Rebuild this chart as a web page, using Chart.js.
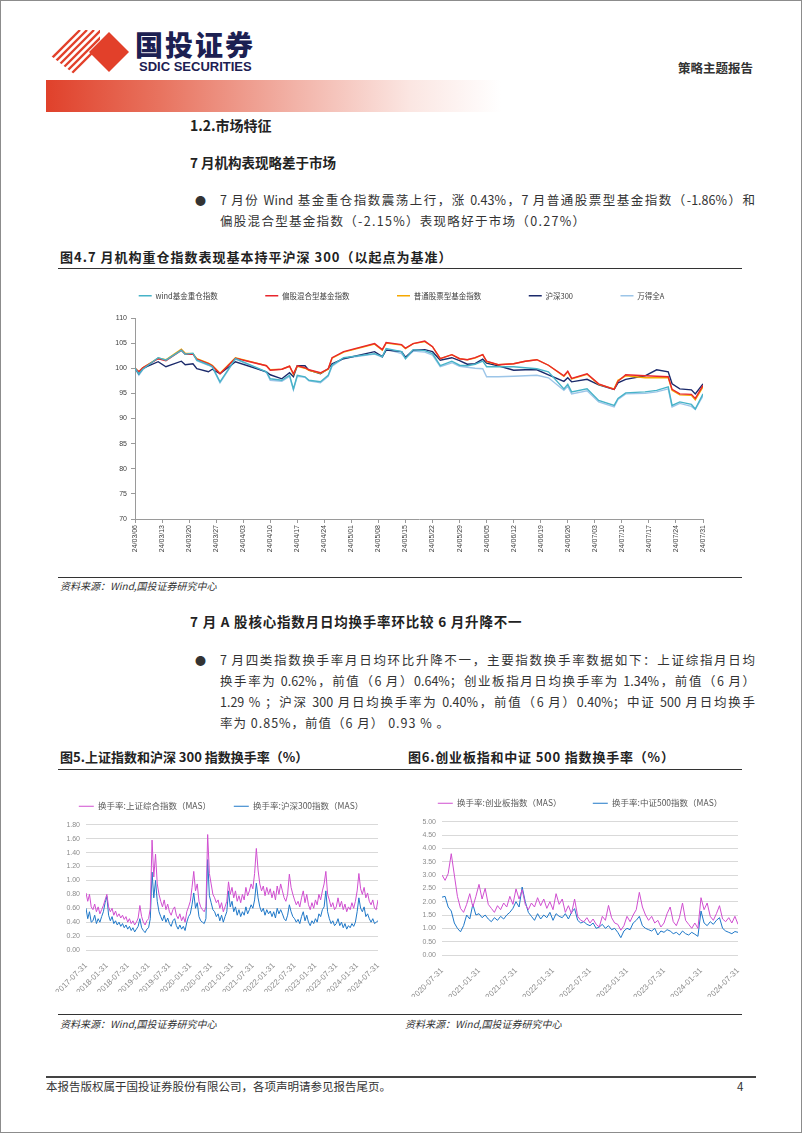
<!DOCTYPE html>
<html>
<head>
<meta charset="utf-8">
<script src="https://cdn.jsdelivr.net/npm/chart.js@4.4.1/dist/chart.umd.min.js"></script>
<style>
html, body { margin: 0; padding: 0; background: #fff; }
body { width: 802px; height: 1133px; position: relative; overflow: hidden; font-family: "Noto Sans CJK SC", sans-serif; color: #222; }
.frame { position: absolute; left: 0; top: 0; width: 800px; height: 1131px; border: 1px solid #8c8c8c; }
.abs { position: absolute; white-space: nowrap; }
.h1 { left: 190px; top: 114px; font-size: 14px; font-weight: 700; line-height: 22px; }
.h2 { left: 190px; font-size: 13.5px; font-weight: 700; line-height: 20px; }
.dot { left: 195px; font-size: 11px; line-height: 20px; color: #333; }
.para { left: 220px; width: 535px; font-size: 12.5px; line-height: 20px; color: #333; }
.just { text-align: justify; text-align-last: justify; }
.figt { font-size: 13px; font-weight: 700; line-height: 20px; color: #222; }
.rule { position: absolute; height: 0; border-top: 1.6px solid #333; }
.src { font-size: 10px; font-style: italic; color: #333; line-height: 14px; }
canvas { position: absolute; }
</style>
</head>
<body>
<div class="frame"></div>

<!-- 页眉 -->
<svg class="abs" style="left:44px;top:30px" width="90" height="44" viewBox="0 0 90 44">
  <defs><clipPath id="stripeClip"><polygon points="2,22 30,0 56,0 56,44 30,44"/></clipPath></defs>
  <g clip-path="url(#stripeClip)" stroke="#e2402a" stroke-width="2.3">
    <line x1="-8" y1="44" x2="36" y2="0"/>
    <line x1="-1" y1="44" x2="43" y2="0"/>
    <line x1="6" y1="44" x2="50" y2="0"/>
    <line x1="13" y1="44" x2="57" y2="0"/>
    <line x1="20" y1="44" x2="64" y2="0"/>
    <line x1="27" y1="44" x2="71" y2="0"/>
  </g>
  <polygon points="65,2 85,22 65,42 45,22" fill="#e2402a"/>
</svg>
<div class="abs" style="left:135px;top:26px;font-size:28px;font-weight:900;letter-spacing:2px;color:#1c2052;line-height:36px">国投证券</div>
<div class="abs" style="left:139px;top:60px;font-family:'Liberation Sans Narrow','Liberation Sans',sans-serif;font-size:13px;font-weight:700;color:#1c2052;line-height:14px">SDIC SECURITIES</div>
<div class="abs" style="left:678px;top:59px;font-size:12.5px;font-weight:700;color:#333;line-height:18px">策略主题报告</div>
<div class="abs" style="left:46px;top:80px;width:455px;height:32px;background:linear-gradient(90deg,#e0412b 0%,#e8735f 25%,#f2b3a8 55%,#fbe6e2 80%,rgba(255,255,255,0) 100%)"></div>

<!-- 正文 -->
<div class="abs h1">1.2.市场特征</div>
<div class="abs h2" style="top:152px">7 月机构表现略差于市场</div>
<div class="abs dot" style="top:190px">●</div>
<div class="abs para just" style="top:190px">7 月份 Wind 基金重仓指数震荡上行，涨 0.43%，7 月普通股票型基金指数（-1.86%）和</div>
<div class="abs para" style="top:211px;letter-spacing:1.3px">偏股混合型基金指数（-2.15%）表现略好于市场（0.27%）</div>

<div class="abs figt" style="left:60px;top:247px;letter-spacing:1px">图4.7 月机构重仓指数表现基本持平沪深 300（以起点为基准）</div>
<div class="rule" style="left:58px;top:268px;width:684px"></div>
<canvas id="chart1" width="620" height="273" style="left:100px;top:282px"></canvas>
<div class="rule" style="left:58px;top:577px;width:684px;border-top-width:1.2px"></div>
<div class="abs src" style="left:60px;top:579px">资料来源：Wind,国投证券研究中心</div>

<div class="abs h2" style="top:611px;letter-spacing:0.8px">7 月 A 股核心指数月日均换手率环比较 6 月升降不一</div>
<div class="abs dot" style="top:650px">●</div>
<div class="abs para just" style="top:650px">7 月四类指数换手率月日均环比升降不一，主要指数换手率数据如下：上证综指月日均</div>
<div class="abs para just" style="top:671px">换手率为 0.62%，前值（6 月）0.64%；创业板指月日均换手率为 1.34%，前值（6 月）</div>
<div class="abs para just" style="top:692px">1.29 % ；沪深 300 月日均换手率为 0.40%，前值（6 月）0.40%；中证 500 月日均换手</div>
<div class="abs para" style="top:713px;letter-spacing:1px">率为 0.85%，前值（6 月） 0.93 % 。</div>

<div class="abs figt" style="left:60px;top:747px">图5.上证指数和沪深 300 指数换手率（%）</div>
<div class="abs figt" style="left:408px;top:747px;letter-spacing:0.8px">图6.创业板指和中证 500 指数换手率（%）</div>
<div class="rule" style="left:58px;top:769px;width:684px"></div>
<canvas id="chart2" width="360" height="200" style="left:40px;top:792px"></canvas>
<canvas id="chart3" width="360" height="208" style="left:400px;top:789px"></canvas>
<div class="rule" style="left:58px;top:1014px;width:684px;border-top-width:1.2px"></div>
<div class="abs src" style="left:60px;top:1017px">资料来源：Wind,国投证券研究中心</div>
<div class="abs src" style="left:405px;top:1017px">资料来源：Wind,国投证券研究中心</div>

<!-- 页脚 -->
<div class="rule" style="left:46px;top:1076px;width:710px;border-top:2px solid #444"></div>
<div class="abs" style="left:46px;top:1078px;font-size:11.5px;color:#333;line-height:16px">本报告版权属于国投证券股份有限公司，各项声明请参见报告尾页。</div>
<div class="abs" style="left:737px;top:1078px;font-size:11.5px;color:#333;line-height:16px">4</div>

<script>
// 图4：机构重仓指数 vs 沪深300（以起点为基准）
const c1TickLabels = ['24/03/06', '24/03/13', '24/03/20', '24/03/27', '24/04/03', '24/04/10', '24/04/17', '24/04/24',
    '24/05/01', '24/05/08', '24/05/15', '24/05/22', '24/05/29', '24/06/05', '24/06/12', '24/06/19',
    '24/06/26', '24/07/03', '24/07/10', '24/07/17', '24/07/24', '24/07/31'];
// 距 24/03/06 的天数
const c1Days = [0, 1, 2, 6, 8, 12, 13, 15, 16, 19, 20, 22, 26, 34, 35, 38, 40, 41, 42, 44,
    45, 48, 50, 51, 54, 62, 64, 65, 69, 70, 72, 75, 77, 79, 82, 84, 86, 88, 90, 91,
    94, 98, 101, 104, 107, 111, 112, 113, 117, 120, 124, 125, 127, 132, 135, 138, 139, 141, 144, 145, 147];
const c1Wind = [100, 98.9, 99.8, 102.1, 101.6, 103.6, 102.8, 103.0, 101.6, 100.7,
    100.3, 97.3, 101.9, 99.3, 97.9, 97.6, 98.6, 95.9, 98.6, 98.3,
    97.6, 97.3, 98.6, 100.6, 102.1, 102.9, 102.3, 103.9, 103.3, 101.9,
    103.7, 103.5, 102.9, 100.5, 101.4, 100.6, 100.5, 100.8, 101.4, 100.3,
    100.3, 100.3, 100.1, 99.9, 99.3, 95.9, 96.8, 95.3, 95.9, 93.6,
    92.6, 94.0, 95.1, 95.3, 95.6, 96.3, 92.6, 93.3, 92.8, 91.9, 94.9];
const c1Pgzh = [100, 99.3, 100.1, 101.9, 101.5, 103.6, 102.8, 102.8, 101.8, 100.9,
    100.5, 98.9, 102.0, 100.5, 99.6, 99.8, 100.4, 98.9, 100.5, 100.1,
    99.7, 99.1, 99.9, 102.1, 103.3, 104.9, 103.7, 105.1, 104.7, 104.0,
    104.9, 105.4, 104.3, 101.9, 102.7, 101.9, 101.7, 102.1, 102.7, 101.4,
    100.7, 100.9, 101.4, 101.7, 100.6, 98.5, 99.4, 98.0, 98.9, 96.9,
    95.8, 97.4, 98.7, 98.5, 98.4, 98.3, 95.8, 94.9, 94.8, 94.0, 96.6];
const c1Ptgp = [100, 99.3, 100.1, 102.0, 101.7, 103.8, 103.0, 102.9, 101.9, 101.0,
    100.6, 99.0, 102.1, 100.5, 99.7, 99.8, 100.4, 98.8, 100.4, 100.0,
    99.6, 99.0, 99.8, 102.0, 103.2, 104.8, 103.6, 105.0, 104.6, 103.9,
    104.9, 105.3, 104.3, 101.9, 102.7, 101.9, 101.7, 102.0, 102.7, 101.3,
    100.7, 100.9, 101.4, 101.7, 100.6, 98.4, 99.3, 97.9, 98.8, 96.8,
    95.9, 97.6, 98.5, 98.1, 98.1, 98.1, 95.6, 94.7, 94.6, 93.7, 96.3];
const c1Hs300 = [100, 98.9, 100, 101.3, 100.3, 101.4, 100.7, 100.9, 99.9, 99.3,
    99.8, 98.9, 101.3, 99.3, 98.7, 97.9, 99.1, 98.3, 100.5, 100.5,
    99.6, 98.9, 99.9, 100.9, 101.9, 103.3, 102.3, 103.6, 103.3, 102.2,
    103.6, 103.7, 103.3, 101.6, 102.1, 101.5, 100.8, 100.9, 101.8, 101.0,
    100.5, 99.6, 99.7, 99.7, 98.7, 97.4, 98.1, 97.3, 97.8, 96.7,
    95.8, 97.1, 97.8, 98.5, 99.7, 99.3, 96.9, 95.9, 95.7, 94.9, 96.9];
const c1Wdqa = [100, 98.6, 99.7, 102.1, 101.6, 103.5, 102.8, 102.9, 101.5, 100.6,
    100.2, 97.1, 101.8, 99.2, 97.6, 97.4, 98.4, 95.7, 98.4, 98.2,
    97.5, 97.1, 98.4, 100.4, 102.0, 102.8, 102.2, 103.8, 102.9, 102.0,
    103.4, 103.2, 102.6, 100.3, 101.1, 100.4, 100.2, 100.0, 99.9, 98.3,
    98.3, 98.4, 98.5, 98.6, 98.1, 95.6, 96.4, 94.9, 95.5, 93.3,
    92.3, 93.8, 94.9, 95.0, 95.3, 95.9, 92.3, 93.0, 92.4, 91.8, 94.5];

// 图5：上证综指、沪深300换手率（MAS），半月一个点，2017-07-31 起
const c2TickLabels = ['2017-07-31', '2018-01-31', '2018-07-31', '2019-01-31', '2019-07-31', '2020-01-31', '2020-07-31',
    '2021-01-31', '2021-07-31', '2022-01-31', '2022-07-31', '2023-01-31', '2023-07-31', '2024-01-31', '2024-07-31'];
const c2Sh = [
    0.82, 0.70, 0.80, 0.62, 0.58, 0.66, 0.55, 0.62, 0.52, 0.58, 0.64, 0.72,
    0.80, 0.62, 0.55, 0.60, 0.50, 0.56, 0.48, 0.52, 0.46, 0.50, 0.44, 0.48,
    0.40, 0.45, 0.38, 0.42, 0.36, 0.40, 0.46, 0.64, 0.48, 0.40, 0.36, 0.42,
    0.45, 0.60, 1.58, 1.05, 1.38, 0.95, 0.80, 0.70, 0.62, 0.72, 0.58, 0.66,
    0.55, 0.50, 0.58, 0.62, 0.50, 0.45, 0.52, 0.42, 0.48, 0.40, 0.55, 0.62,
    0.70, 0.90, 1.13, 0.85, 0.95, 0.70, 0.62, 0.58, 0.55, 0.62, 1.66, 1.10,
    0.95, 0.80, 0.75, 0.68, 0.72, 0.60, 0.68, 0.55, 0.62, 0.70, 0.98, 0.80,
    0.90, 0.75, 0.85, 0.70, 0.78, 0.68, 0.80, 0.72, 0.90, 0.78, 0.85, 0.95,
    0.88, 1.10, 1.46, 1.15, 0.95, 0.85, 0.92, 0.78, 0.90, 0.80, 0.88, 0.75,
    0.85, 0.72, 0.92, 0.80, 0.95, 0.85, 0.75, 0.70, 0.80, 1.09, 0.90, 0.80,
    0.72, 0.65, 0.70, 0.62, 0.75, 0.85, 0.68, 0.80, 0.65, 0.58, 0.68, 0.60,
    0.72, 0.65, 0.80, 0.72, 0.85, 0.95, 1.13, 0.80, 0.72, 0.62, 0.68, 0.58,
    0.62, 0.75, 0.62, 0.70, 0.58, 0.66, 0.55, 0.62, 0.58, 0.68, 0.60, 0.70,
    0.85, 1.10, 0.88, 0.80, 0.90, 0.75, 0.82, 0.70, 0.65, 0.72, 0.60, 0.58,
    0.72];
const c2Hs300 = [
    0.60, 0.45, 0.55, 0.40, 0.42, 0.50, 0.38, 0.45, 0.40, 0.48, 0.55, 0.68,
    0.77, 0.50, 0.42, 0.48, 0.38, 0.42, 0.36, 0.40, 0.34, 0.38, 0.32, 0.36,
    0.30, 0.34, 0.28, 0.32, 0.26, 0.30, 0.34, 0.45, 0.32, 0.28, 0.25, 0.30,
    0.32, 0.45, 1.12, 0.75, 1.00, 0.70, 0.55, 0.48, 0.42, 0.50, 0.40, 0.46,
    0.38, 0.34, 0.42, 0.45, 0.35, 0.30, 0.36, 0.30, 0.34, 0.28, 0.40, 0.48,
    0.52, 0.65, 0.82, 0.60, 0.68, 0.48, 0.42, 0.40, 0.38, 0.45, 1.30, 0.78,
    0.68, 0.58, 0.55, 0.48, 0.52, 0.42, 0.50, 0.40, 0.48, 0.55, 0.85, 0.62,
    0.70, 0.55, 0.62, 0.50, 0.58, 0.48, 0.55, 0.50, 0.62, 0.52, 0.58, 0.65,
    0.60, 0.72, 0.96, 0.75, 0.62, 0.55, 0.60, 0.50, 0.58, 0.52, 0.56, 0.48,
    0.55, 0.46, 0.60, 0.52, 0.58, 0.52, 0.45, 0.42, 0.50, 0.65, 0.55, 0.48,
    0.45, 0.40, 0.44, 0.38, 0.48, 0.55, 0.42, 0.50, 0.40, 0.35, 0.42, 0.38,
    0.45, 0.40, 0.52, 0.48, 0.58, 0.62, 0.85, 0.55, 0.45, 0.38, 0.42, 0.35,
    0.38, 0.45, 0.35, 0.40, 0.32, 0.38, 0.30, 0.35, 0.32, 0.38, 0.34, 0.40,
    0.55, 0.75, 0.60, 0.55, 0.62, 0.48, 0.52, 0.45, 0.40, 0.45, 0.38, 0.40,
    0.42];

// 图6：创业板指、中证500换手率（MAS），半月一个点，2020-07-31 起
const c3TickLabels = ['2020-07-31', '2021-01-31', '2021-07-31', '2022-01-31', '2022-07-31',
    '2023-01-31', '2023-07-31', '2024-01-31', '2024-07-31'];
const c3Cyb = [
    3.00, 2.80, 3.05, 3.80, 3.00, 2.20, 1.75, 1.60, 1.90, 2.30, 1.80, 2.20,
    2.65, 2.10, 2.50, 1.90, 1.75, 1.60, 1.85, 1.70, 1.95, 1.80, 2.20, 1.90,
    2.48, 2.10, 2.45, 1.90, 1.70, 1.95, 1.80, 2.15, 1.85, 2.10, 1.75, 2.00,
    1.70, 2.30, 1.90, 2.10, 1.60, 1.85, 1.55, 2.10, 1.45, 1.30, 1.25, 1.40,
    1.20, 1.35, 1.15, 1.05, 1.45, 1.30, 1.86, 1.40, 1.20, 1.15, 0.93, 1.10,
    1.45, 1.25, 1.50, 1.70, 2.35, 1.80, 1.50, 1.30, 1.45, 1.20, 1.30, 1.05,
    1.20, 1.55, 1.80, 1.25, 1.10, 1.40, 1.95, 1.30, 1.15, 1.00, 1.20, 1.00,
    2.15, 1.70, 1.95, 1.45, 1.30, 1.55, 1.85, 1.35, 1.25, 1.40, 1.20, 1.45,
    1.15];
const c3Zz500 = [
    2.17, 2.20, 1.80, 1.65, 1.20, 1.00, 0.87, 1.10, 1.50, 1.35, 1.90, 1.50,
    1.55, 1.40, 1.50, 1.35, 1.25, 1.40, 1.30, 1.45, 1.35, 1.50, 1.60, 1.75,
    2.00, 1.80, 2.55, 2.00, 1.60, 1.45, 1.30, 1.55, 1.35, 1.50, 1.40, 1.60,
    1.30, 1.55, 1.45, 1.40, 1.55, 1.35, 1.60, 1.74, 1.30, 1.20, 1.25, 1.15,
    1.10, 1.20, 1.00, 1.05, 1.15, 1.00, 1.10, 0.95, 1.00, 0.85, 0.65, 0.90,
    1.00, 0.95, 1.20, 1.30, 1.45, 1.10, 1.00, 0.95, 0.90, 1.00, 0.75, 0.90,
    0.85, 0.95, 0.90, 0.80, 0.85, 0.75, 0.90, 0.80, 0.75, 0.85, 0.78, 0.70,
    1.65, 1.20, 1.10, 1.25, 1.15, 1.30, 1.40, 1.00, 0.90, 0.85, 0.80, 0.88,
    0.85];

Chart.defaults.font.family = "'Liberation Sans', 'Noto Sans CJK SC', sans-serif";
Chart.defaults.animation = false;

// 把数组拼成 {x, y} 点
function toPoints(xs, ys) {
    return ys.map((y, i) => ({ x: xs ? xs[i] : i, y: y }));
}

// 图例之间拉开距离：除最后一项外在文字后补全角空格
function spacedLabels(gap) {
    return function(chart) {
        const items = Chart.defaults.plugins.legend.labels.generateLabels(chart);
        items.forEach((item, i) => { if (i < items.length - 1) item.text += gap; });
        return items;
    };
}

function line(label, data, color, width) {
    return { label: label, data: data, borderColor: color, backgroundColor: color,
        borderWidth: width, pointRadius: 0, tension: 0, fill: false };
}

// ---------- 图4 ----------
new Chart(document.getElementById('chart1'), {
    type: 'line',
    data: {
        datasets: [
            line('wind基金重仓指数', toPoints(c1Days, c1Wind), '#47b3c8', 1.4),
            line('偏股混合型基金指数', toPoints(c1Days, c1Pgzh), '#e8262d', 1.4),
            line('普通股票型基金指数', toPoints(c1Days, c1Ptgp), '#f6a800', 1.4),
            line('沪深300', toPoints(c1Days, c1Hs300), '#1b2a6b', 1.4),
            line('万得全A', toPoints(c1Days, c1Wdqa), '#9cc5e8', 1.4)
        ]
    },
    options: {
        responsive: false,
        layout: { padding: { left: 0, right: 17, top: 0, bottom: 0 } },
        plugins: {
            legend: {
                position: 'top',
                labels: {
                    usePointStyle: true, pointStyle: 'line', pointStyleWidth: 13,
                    padding: 10, color: '#404040',
                    font: { family: 'Noto Sans CJK SC', size: 7.5 },
                    generateLabels: spacedLabels('\u3000\u3000\u3000\u3000\u3000')
                }
            },
            title: { display: true, text: '', weight: 500, font: { size: 1, lineHeight: 1 }, padding: { top: 0, bottom: 7.5 } },
            tooltip: { enabled: false }
        },
        scales: {
            x: {
                type: 'linear', min: 0, max: 147,
                grid: { display: true, drawOnChartArea: false, drawTicks: true, tickLength: 4, color: '#9a9a9a' },
                border: { display: true, color: '#9a9a9a' },
                ticks: { minRotation: 90, maxRotation: 90, padding: 2, color: '#404040', font: { size: 7 },
                    callback: v => c1TickLabels[Math.round(v / 7)] },
                afterBuildTicks: s => { s.ticks = c1TickLabels.map((t, i) => ({ value: i * 7 })); },
                afterFit: s => { s.height = 36; s.paddingLeft = 0; s.paddingRight = 0; }
            },
            y: {
                min: 70, max: 110,
                grid: { display: true, drawOnChartArea: false, drawTicks: true, tickLength: 4, color: '#9a9a9a' },
                border: { display: true, color: '#9a9a9a' },
                ticks: { stepSize: 5, padding: 4, color: '#404040', font: { size: 7 } },
                afterFit: s => { s.width = 35; s.paddingTop = 0; s.paddingBottom = 0; }
            }
        }
    }
});

// 图5、图6 共用的设置
function turnoverOptions(tickLabels, xMax, yMax, yStep, padLeft, yWidth, padRight, spacer, gap) {
    return {
        responsive: false,
        layout: { padding: { left: padLeft, right: padRight, top: 0, bottom: 0 } },
        plugins: {
            legend: {
                position: 'top',
                labels: {
                    usePointStyle: true, pointStyle: 'line', pointStyleWidth: 15,
                    padding: 10, color: '#595959',
                    font: { family: 'Noto Sans CJK SC', size: 8.5 },
                    generateLabels: spacedLabels(gap)
                }
            },
            title: { display: true, text: '', weight: 500, font: { size: 1, lineHeight: 1 }, padding: { top: 0, bottom: spacer } },
            tooltip: { enabled: false }
        },
        scales: {
            x: {
                type: 'linear', min: 0, max: xMax,
                grid: { display: false },
                border: { display: false },
                ticks: { minRotation: 45, maxRotation: 45, padding: 3, color: '#8c8c8c', font: { size: 8 },
                    callback: v => tickLabels[Math.round(v / 12)] },
                afterBuildTicks: s => { s.ticks = tickLabels.map((t, i) => ({ value: i * 12 })); },
                afterFit: s => { s.height = 42; s.paddingLeft = 0; s.paddingRight = 0; }
            },
            y: {
                min: 0, max: yMax,
                grid: { color: '#d9d9d9', lineWidth: 1, drawTicks: false },
                border: { display: false },
                ticks: { stepSize: yStep, padding: 6, color: '#8c8c8c', font: { size: 7 },
                    callback: v => v.toFixed(2) },
                afterFit: s => { s.width = yWidth; s.paddingTop = 0; s.paddingBottom = 0; }
            }
        }
    };
}

// ---------- 图5 ----------
new Chart(document.getElementById('chart2'), {
    type: 'line',
    data: {
        datasets: [
            line('换手率:上证综合指数（MAS）', toPoints(null, c2Sh), '#d04fd0', 1),
            line('换手率:沪深300指数（MAS）', toPoints(null, c2Hs300), '#1f78c8', 1)
        ]
    },
    options: turnoverOptions(c2TickLabels, 168, 1.8, 0.2, 24, 22, 22, 3.3, '\u3000\u3000')
});

// ---------- 图6 ----------
new Chart(document.getElementById('chart3'), {
    type: 'line',
    data: {
        datasets: [
            line('换手率:创业板指数（MAS）', toPoints(null, c3Cyb), '#d04fd0', 1),
            line('换手率:中证500指数（MAS）', toPoints(null, c3Zz500), '#1f78c8', 1)
        ]
    },
    options: turnoverOptions(c3TickLabels, 96, 5, 0.5, 22, 20, 22, 3.2, '\u3000\u3000\u3000')
});
</script>
</body>
</html>
